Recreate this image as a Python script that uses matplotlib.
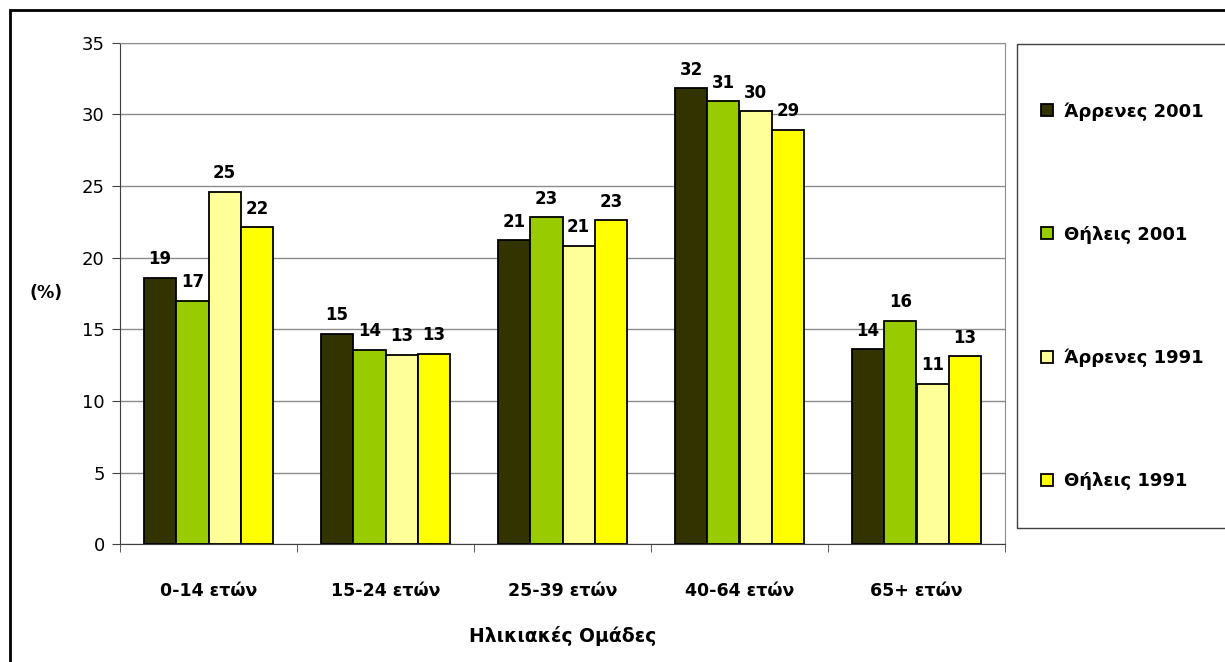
import numpy as np
import matplotlib.pyplot as plt
from matplotlib.patches import Rectangle

plt.rcParams['font.family'] = ['DejaVu Sans']

# age groups and series (percent)
groups = ['0-14 ετών', '15-24 ετών', '25-39 ετών', '40-64 ετών', '65+ ετών']
series_names = ['Άρρενες 2001', 'Θήλεις 2001', 'Άρρενες 1991', 'Θήλεις 1991']
males_2001 = [18.6, 14.7, 21.2, 31.8, 13.6]
females_2001 = [17.0, 13.55, 22.8, 30.9, 15.6]
males_1991 = [24.6, 13.2, 20.8, 30.2, 11.2]
females_1991 = [22.1, 13.3, 22.6, 28.9, 13.1]
colors = ['#333300', '#99cc00', '#ffff99', '#ffff00']

all_series = [males_2001, females_2001, males_1991, females_1991]

fig = plt.figure(figsize=(12.25, 6.62), dpi=100)
W, H = 1225, 662
ax = fig.add_axes([120 / W, 1 - 544.3 / H, 885 / W, 501.8 / H])

x = np.arange(len(groups))
bw = 0.182
bars = []
for i, (vals, name, c) in enumerate(zip(all_series, series_names, colors)):
    b = ax.bar(x + (i - 1.5) * bw, vals, bw, color=c, edgecolor='black',
               linewidth=1.3, label=name, zorder=3)
    ax.bar_label(b, labels=[f'{v:.0f}' for v in vals], padding=7,
                 fontsize=12, fontweight='bold', zorder=4)
    bars.append(b)

ax.set_xlim(-0.5, len(groups) - 0.5)
ax.set_ylim(0, 35)
ax.set_yticks(np.arange(0, 36, 5))
ax.yaxis.grid(True, color='#8c8c8c', linewidth=1.0, zorder=0)
ax.set_axisbelow(True)

ax.set_xticks(x)
ax.set_xticklabels(groups, fontsize=12.5, fontweight='bold')
ax.set_xticks(np.arange(-0.5, len(groups), 1), minor=True)
ax.tick_params(axis='x', which='major', length=0, pad=27)
ax.tick_params(axis='x', which='minor', length=6, color='#404040')
ax.tick_params(axis='y', length=6, color='#404040', labelsize=13, pad=5)

for s in ['left', 'bottom']:
    ax.spines[s].set_color('#404040')
for s in ['top', 'right']:
    ax.spines[s].set_color('#8c8c8c')

ax.set_xlabel('Ηλικιακές Ομάδες', fontsize=13.5, fontweight='bold', labelpad=19)
ax.set_ylabel('(%)', fontsize=12.5, fontweight='bold', rotation=0, labelpad=26,
              va='center')

# legend box
fig.patches.append(Rectangle((1017 / W, 1 - 528 / H), 220 / W, 484 / H,
                             transform=fig.transFigure, fill=False,
                             edgecolor='#404040', linewidth=1.0))
leg = fig.legend(handles=bars, labels=series_names, loc='upper left',
                 bbox_to_anchor=(1034 / W, 1 - 95 / H), frameon=False,
                 prop={'weight': 'bold', 'size': 13}, labelspacing=5.82,
                 handlelength=0.65, handleheight=0.65, handletextpad=0.6,
                 borderaxespad=0)

# outer border
fig.patches.append(Rectangle((10 / W, -0.01), 1.05, 1 - 10 / H + 0.01,
                             transform=fig.transFigure, fill=False,
                             edgecolor='black', linewidth=2))

fig.savefig('out.png', dpi=100)
